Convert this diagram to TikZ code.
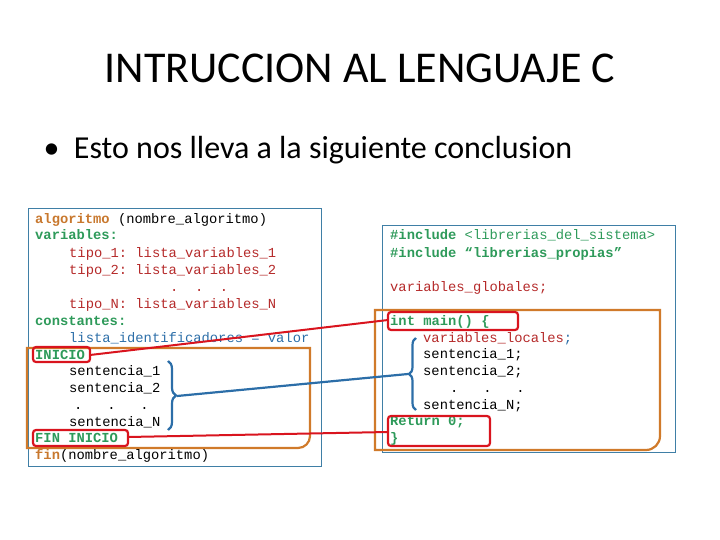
\documentclass[tikz,border=0pt]{standalone}
\usepackage{fontspec}
\setmainfont{Carlito}
\setmonofont{Liberation Mono}
\usetikzlibrary{positioning,decorations.pathreplacing}
\definecolor{kworange}{HTML}{C8782E}
\definecolor{kwgreen}{HTML}{2E9A5A}
\definecolor{kwred}{HTML}{B52A2A}
\definecolor{kwblue}{HTML}{2C6EA8}
\definecolor{frameblue}{HTML}{3F7FA6}
\definecolor{boxorange}{HTML}{D07A2A}
\definecolor{markred}{HTML}{D9141E}
\tikzset{
  code/.style={anchor=base west, inner sep=0pt, font=\ttfamily\fontsize{13.8}{14}\selectfont},
  frame/.style={draw=frameblue, line width=0.8pt},
  block/.style={draw=boxorange, line width=2.2pt},
  redmark/.style={draw=markred, line width=2.2pt, rounded corners=3pt},
  link/.style={markred, line width=2pt},
  bracelink/.style={kwblue, line width=2.2pt},
}
\begin{document}
\begin{tikzpicture}[x=1pt,y=-1pt]
    \useasboundingbox (0,0) rectangle (720,540);

    % Title and bullet
    \node (title) at (360,68) {\fontsize{44}{50}\selectfont INTRUCCION AL LENGUAJE C};
    \node[anchor=west] (bullet) at (40,150) {\fontsize{32}{38}\selectfont \textbullet\ \ Esto nos lleva a la siguiente conclusion};

    % Left frame
    \draw[frame] (28,208) rectangle (321,466);
    \draw[block] (27,348) -- (310,348) -- (310,436) to[out=-90,in=0] (298,448) -- (27,448) -- cycle;
    \node[code] (l1) at (35,223) {\textbf{\color{kworange}algoritmo} (nombre\_algoritmo)};
    \node[code] (l2) at (35,240) {\textbf{\color{kwgreen}variables:}};
    \node[code,kwred] (l3) at (69,257) {tipo\_1: lista\_variables\_1};
    \node[code,kwred] (l4) at (69,274) {tipo\_2: lista\_variables\_2};
    \node[code,kwred] (l5) at (170,291) {.\ \ .\ \ .};
    \node[code,kwred] (l6) at (69,308) {tipo\_N: lista\_variables\_N};
    \node[code] (l7) at (35,325) {\textbf{\color{kwgreen}constantes:}};
    \node[code,kwblue] (l8) at (69,342) {lista\_identificadores = valor};
    \node[code] (inicio) at (35,359) {\textbf{\color{kwgreen}INICIO}};
    \node[code] (l10) at (69,375) {sentencia\_1};
    \node[code] (l11) at (69,392) {sentencia\_2};
    \node[code] (l12) at (74,409) {.\ \ \ .\ \ \ .};
    \node[code] (l13) at (69,426) {sentencia\_N};
    \node[code] (fin) at (35,442) {\textbf{\color{kwgreen}FIN INICIO}};
    \node[code] (l15) at (35,459) {\textbf{\color{kworange}fin}(nombre\_algoritmo)};

    % Right frame
    \draw[frame] (382,225) rectangle (675,452);
    \draw[block] (375,310) -- (660,310) -- (660,436) to[out=-90,in=0] (646,450) -- (375,450) -- cycle;
    \node[code,kwgreen] (r1) at (390,240) {\textbf{\#include} <librerias\_del\_sistema>};
    \node[code,kwgreen] (r2) at (390,257) {\textbf{\#include “librerias\_propias”}};
    \node[code,kwred] (r3) at (390,291) {variables\_globales;};
    \node[code,kwgreen] (main) at (390,325) {\textbf{int main() \{}};
    \node[code] (r5) at (423,342) {\color{kwred}variables\_locales\color{kwblue};};
    \node[code] (r6) at (423,358) {sentencia\_1;};
    \node[code] (r7) at (423,375) {sentencia\_2;};
    \node[code] (r8) at (450,392) {.\ \ \ .\ \ \ .};
    \node[code] (r9) at (423,409) {sentencia\_N;};
    \node[code,kwgreen] (ret) at (390,425) {\textbf{Return 0;}};
    \node[code,kwgreen] (close) at (390,442) {\textbf{\}}};

    % Red markers
    \draw[redmark] (33,347) rectangle (90,362);
    \draw[redmark] (33,430) rectangle (128,446);
    \draw[redmark] (388,312) rectangle (518,330);
    \draw[redmark] (388,416) rectangle (490,446);
    \coordinate (inicioR) at (90,355);
    \coordinate (finR) at (128,437);
    \coordinate (mainL) at (388,320);
    \coordinate (retL) at (388,432);
    \draw[link] (inicioR) -- (mainL);
    \draw[link] (finR) -- (retL);

    % Braces
    \draw[bracelink,decorate,decoration={brace,amplitude=8pt}] (168,361) -- (168,430);
    \draw[bracelink,decorate,decoration={brace,amplitude=7pt}] (416,410) -- (416,338);
    \coordinate (braceL) at (177,396);
    \coordinate (braceR) at (408,374);
    \draw[bracelink] (braceL) -- (braceR);
\end{tikzpicture}
\end{document}
